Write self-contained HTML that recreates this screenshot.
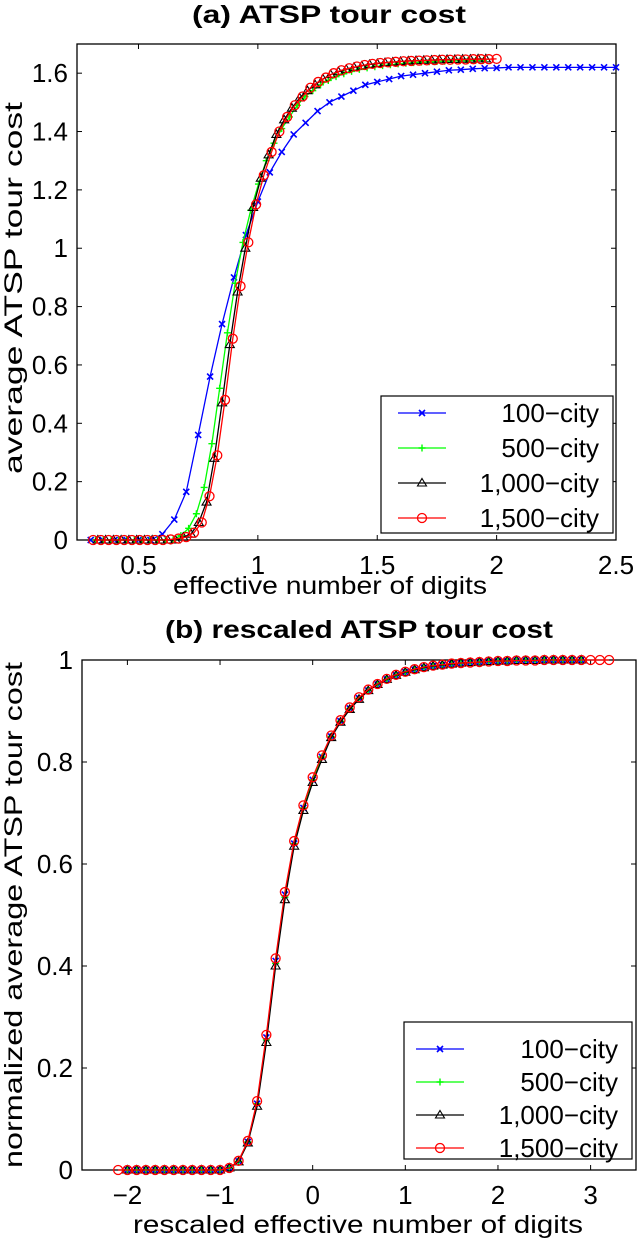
<!DOCTYPE html>
<html><head><meta charset="utf-8"><style>
body{margin:0;background:#fff}
svg{display:block;font-family:"Liberation Sans",Arial,sans-serif}
</style></head><body>
<svg id="fig" width="638" height="1240" viewBox="0 0 638 1240">
<text x="329" y="23" text-anchor="middle" font-size="25" font-weight="bold" textLength="274" lengthAdjust="spacingAndGlyphs">(a) ATSP tour cost</text>
<text x="359" y="638" text-anchor="middle" font-size="25" font-weight="bold" textLength="388" lengthAdjust="spacingAndGlyphs">(b) rescaled ATSP tour cost</text>
<text x="330" y="594" text-anchor="middle" font-size="25" textLength="314" lengthAdjust="spacingAndGlyphs">effective number of digits</text>
<text x="358" y="1233" text-anchor="middle" font-size="25" textLength="450" lengthAdjust="spacingAndGlyphs">rescaled effective number of digits</text>
<text transform="translate(22,288) rotate(-90)" text-anchor="middle" font-size="25" textLength="372" lengthAdjust="spacingAndGlyphs">average ATSP tour cost</text>
<text transform="translate(22,915) rotate(-90)" text-anchor="middle" font-size="25" textLength="506" lengthAdjust="spacingAndGlyphs">normalized average ATSP tour cost</text>
<g id="ga"></g><g id="gb"></g>
</svg>
<script>
// ---- chart (a) data ----
const aTicksX = [0.5, 1, 1.5, 2, 2.5];
const aTickLabelsX = ["0.5", "1", "1.5", "2", "2.5"];
const aTicksY = [0, 0.2, 0.4, 0.6, 0.8, 1, 1.2, 1.4, 1.6];
const aTickLabelsY = ["0", "0.2", "0.4", "0.6", "0.8", "1", "1.2", "1.4", "1.6"];
const a100Start = 0.3, a100Step = 0.05;
const a100 = [0,0,0,0,0,0,0.02,0.07,0.165,0.36,0.56,0.74,0.90,1.045,1.16,1.26,1.33,1.39,1.43,1.47,1.50,1.52,1.54,1.56,1.57,1.58,1.59,1.595,1.60,1.605,1.61,1.612,1.615,1.617,1.618,1.62,1.62,1.62,1.62,1.62,1.62,1.62,1.62,1.62,1.62];
const a500Start = 0.32, a500Step = 0.0325;
const a500 = [0,0,0,0,0,0,0,0,0,0,0,0.015,0.04,0.09,0.18,0.33,0.52,0.71,0.88,1.02,1.13,1.22,1.30,1.36,1.41,1.45,1.49,1.52,1.54,1.56,1.575,1.588,1.598,1.606,1.613,1.618,1.622,1.626,1.629,1.632,1.634,1.636,1.638,1.639,1.640,1.641,1.642,1.643,1.643,1.644,1.644];
const a1000Start = 0.33, a1000Step = 0.0325;
const a1000 = [0,0,0,0,0,0,0,0,0,0,0,0.01,0.02,0.06,0.13,0.28,0.47,0.67,0.85,1.0,1.14,1.24,1.32,1.39,1.44,1.48,1.515,1.54,1.56,1.58,1.595,1.605,1.613,1.62,1.625,1.63,1.633,1.636,1.638,1.64,1.642,1.643,1.644,1.645,1.646,1.647,1.647,1.648,1.648,1.649,1.649];
const a1500Start = 0.31, a1500Step = 0.0325;
const a1500 = [0,0,0,0,0,0,0,0,0,0,0.002,0.005,0.01,0.025,0.06,0.15,0.29,0.48,0.69,0.87,1.02,1.15,1.25,1.33,1.40,1.45,1.49,1.52,1.55,1.57,1.585,1.60,1.61,1.617,1.623,1.628,1.632,1.635,1.637,1.639,1.641,1.642,1.643,1.644,1.645,1.646,1.646,1.647,1.647,1.648,1.648,1.648,1.649];

// ---- chart (b) data ----
const bTicksX = [-2, -1, 0, 1, 2, 3];
const bTickLabelsX = ["\u22122", "\u22121", "0", "1", "2", "3"];
const bTicksY = [0, 0.2, 0.4, 0.6, 0.8, 1];
const bTickLabelsY = ["0", "0.2", "0.4", "0.6", "0.8", "1"];
const bStep = 0.1;
const b100Start = -2.0;
const b100 = [0,0,0,0,0,0,0,0,0,0,0,0.004,0.017,0.055,0.13,0.26,0.41,0.54,0.64,0.71,0.765,0.81,0.85,0.88,0.905,0.925,0.94,0.952,0.962,0.97,0.976,0.981,0.985,0.988,0.99,0.992,0.994,0.995,0.996,0.997,0.998,0.998,0.999,0.999,0.999,1,1,1,1,1];
const b500Start = -2.0;
const b500 = [0,0,0,0,0,0,0,0,0,0,0,0.004,0.017,0.055,0.13,0.255,0.405,0.535,0.64,0.71,0.765,0.81,0.85,0.88,0.905,0.925,0.94,0.952,0.962,0.97,0.976,0.981,0.985,0.988,0.99,0.992,0.994,0.995,0.996,0.997,0.998,0.998,0.999,0.999,0.999,1,1,1,1,1];
const b1000Start = -2.0;
const b1000 = [0,0,0,0,0,0,0,0,0,0,0,0.004,0.016,0.053,0.125,0.25,0.40,0.53,0.635,0.705,0.76,0.805,0.848,0.878,0.903,0.923,0.94,0.952,0.962,0.97,0.976,0.981,0.985,0.988,0.99,0.992,0.994,0.995,0.996,0.997,0.998,0.998,0.999,0.999,0.999,1,1,1,1,1];
const b1500Start = -2.1;
const b1500 = [0,0,0,0,0,0,0,0,0,0,0,0,0.004,0.018,0.057,0.135,0.265,0.415,0.545,0.645,0.715,0.77,0.813,0.852,0.882,0.907,0.927,0.942,0.953,0.963,0.971,0.977,0.982,0.986,0.989,0.991,0.993,0.994,0.995,0.996,0.997,0.998,0.998,0.999,0.999,0.999,1,1,1,1,1,1,1,1];

const NS = "http://www.w3.org/2000/svg";
function mk(tag, attrs, parent){const e=document.createElementNS(NS,tag);for(const k in attrs)e.setAttribute(k,attrs[k]);parent.appendChild(e);return e;}

function marker(g, type, cx, cy, color){
  let m;
  if(type==="x"){m=mk("path",{d:`M${cx-3},${cy-3}L${cx+3},${cy+3}M${cx-3},${cy+3}L${cx+3},${cy-3}`,stroke:color,"stroke-width":1.6,fill:"none"},g);}
  else if(type==="+"){m=mk("path",{d:`M${cx-3.5},${cy}L${cx+3.5},${cy}M${cx},${cy-3.5}L${cx},${cy+3.5}`,stroke:color,"stroke-width":1.4,fill:"none"},g);}
  else if(type==="t"){m=mk("path",{d:`M${cx},${cy-4.5}L${cx+4.5},${cy+3}L${cx-4.5},${cy+3}Z`,stroke:color,"stroke-width":1.1,fill:"none"},g);}
  else {m=mk("circle",{cx:cx,cy:cy,r:4.5,stroke:color,"stroke-width":1.3,fill:"none"},g);}
  
  
}

function drawChart(g, box, dom, ticksX, labelsX, ticksY, labelsY, series, legend, prefix){
  const sx=v=>box.l+(v-dom.x0)/(dom.x1-dom.x0)*(box.r-box.l);
  const sy=v=>box.b-(v-dom.y0)/(dom.y1-dom.y0)*(box.b-box.t);
  const frame=mk("rect",{x:box.l,y:box.t,width:box.r-box.l,height:box.b-box.t,fill:"none",stroke:"#000","stroke-width":1.3},g);
  
  
  ticksX.forEach((v,i)=>{
    const x=sx(v);
    mk("line",{x1:x,y1:box.b,x2:x,y2:box.b-5,stroke:"#000","stroke-width":1},g);
    mk("line",{x1:x,y1:box.t,x2:x,y2:box.t+5,stroke:"#000","stroke-width":1},g);
    const t=mk("text",{x:x,y:box.b+34,"text-anchor":"middle","font-size":26},g);
    t.textContent=labelsX[i];
    
    
  });
  ticksY.forEach((v,i)=>{
    const y=sy(v);
    mk("line",{x1:box.l,y1:y,x2:box.l+5,y2:y,stroke:"#000","stroke-width":1},g);
    mk("line",{x1:box.r,y1:y,x2:box.r-5,y2:y,stroke:"#000","stroke-width":1},g);
    const t=mk("text",{x:box.l-9,y:y+9,"text-anchor":"end","font-size":26},g);
    t.textContent=labelsY[i];
    
    
  });
  series.forEach(s=>{
    const sg=mk("g",{},g);
    
    
    const pts=s.vals.map((v,i)=>[sx(s.start+s.step*i),sy(v)]);
    const pl=mk("polyline",{points:pts.map(p=>p.join(",")).join(" "),fill:"none",stroke:s.color,"stroke-width":1.3},sg);
    
    
    pts.forEach(p=>marker(sg,s.mk,p[0],p[1],s.mcolor||s.color));
  });
  const lg=mk("g",{},g);
  
  
  const lb=mk("rect",{x:legend.x,y:legend.y,width:legend.w,height:legend.h,fill:"#fff",stroke:"#000","stroke-width":1.2},lg);
  
  
  series.forEach((s,i)=>{
    const y=legend.y+legend.r0+i*legend.dy;
    const eg=mk("g",{},lg);
    
    
    mk("line",{x1:legend.x+legend.l0,y1:y,x2:legend.x+legend.l0+48,y2:y,stroke:s.color,"stroke-width":1.3},eg);
    marker(eg,s.mk,legend.x+legend.l0+24,y,s.mcolor||s.color);
    const t=mk("text",{x:legend.x+legend.w-14,y:y+9,"text-anchor":"end","font-size":26},eg);
    t.textContent=s.label;
  });
}

drawChart(document.getElementById("ga"),
  {l:77,r:616,t:44,b:540},{x0:0.2425,x1:2.5,y0:0,y1:1.7},
  aTicksX,aTickLabelsX,aTicksY,aTickLabelsY,
  [{name:"100",label:"100\u2212city",color:"#0000ff",mk:"x",start:a100Start,step:a100Step,vals:a100},
   {name:"500",label:"500\u2212city",color:"#00ff00",mk:"+",start:a500Start,step:a500Step,vals:a500},
   {name:"1000",label:"1,000\u2212city",color:"#000000",mk:"t",start:a1000Start,step:a1000Step,vals:a1000},
   {name:"1500",label:"1,500\u2212city",color:"#ff0000",mk:"o",start:a1500Start,step:a1500Step,vals:a1500}],
  {x:381,y:396,w:232,h:137,r0:17,dy:35,l0:17},"chart-a");

drawChart(document.getElementById("gb"),
  {l:82,r:636,t:660,b:1170},{x0:-2.49,x1:3.49,y0:0,y1:1},
  bTicksX,bTickLabelsX,bTicksY,bTickLabelsY,
  [{name:"100",label:"100\u2212city",color:"#0000ff",mk:"x",start:b100Start,step:bStep,vals:b100},
   {name:"500",label:"500\u2212city",color:"#00ff00",mk:"+",start:b500Start,step:bStep,vals:b500},
   {name:"1000",label:"1,000\u2212city",color:"#000000",mk:"t",start:b1000Start,step:bStep,vals:b1000},
   {name:"1500",label:"1,500\u2212city",color:"#ff0000",mk:"o",start:b1500Start,step:bStep,vals:b1500}],
  {x:404,y:1022,w:228,h:137,r0:27,dy:33,l0:12},"chart-b");
</script>
</body></html>
